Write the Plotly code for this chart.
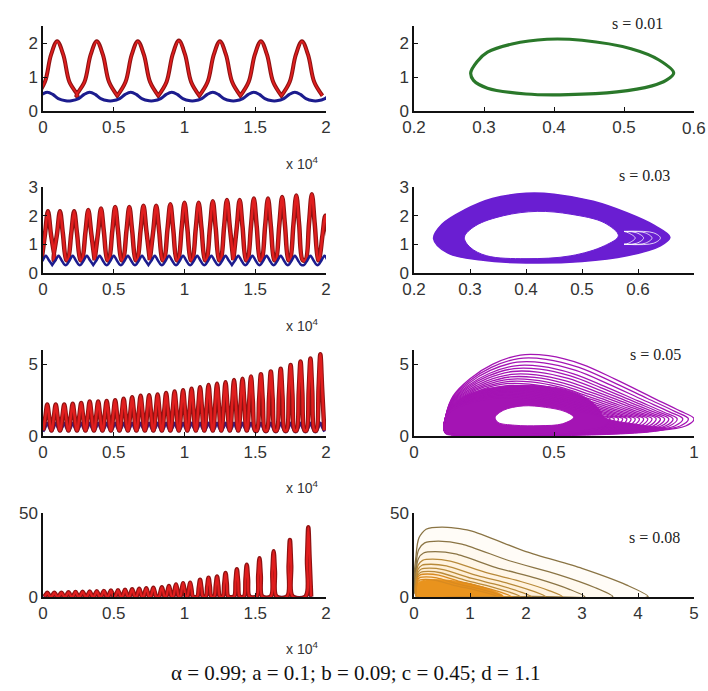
import plotly.graph_objects as go

# ---------------- time series data (t in units of 10^4) ----------------
# s = 0.01
ts1_red_t = [0.10, 0.38, 0.67, 0.96, 1.25, 1.54, 1.83]
ts1_red_h = [2.05, 2.05, 2.05, 2.07, 2.05, 2.05, 2.05]
ts1_red_base = 0.45
ts1_blue_t = [0.03, 0.33, 0.62, 0.91, 1.20, 1.49, 1.78, 2.07]
ts1_blue_h = [0.55, 0.55, 0.55, 0.55, 0.55, 0.55, 0.55, 0.55]
ts1_blue_base = 0.30

# s = 0.03
ts2_red_t = [0.035, 0.12, 0.22, 0.32, 0.41, 0.51, 0.61, 0.71, 0.80, 0.90, 1.00,
             1.10, 1.20, 1.30, 1.39, 1.49, 1.59, 1.69, 1.79, 1.90, 1.995]
ts2_red_h = [2.15, 2.15, 2.15, 2.2, 2.25, 2.3, 2.3, 2.35, 2.35, 2.4, 2.45,
             2.45, 2.5, 2.55, 2.55, 2.6, 2.6, 2.65, 2.7, 2.75, 2.0]
ts2_red_base = 0.45
ts2_blue_t = [0.02, 0.11, 0.21, 0.31, 0.40, 0.50, 0.60, 0.70, 0.79, 0.89, 0.99,
              1.09, 1.19, 1.29, 1.38, 1.48, 1.58, 1.68, 1.78, 1.89, 1.99]
ts2_blue_h = [0.6] * 21
ts2_blue_base = 0.28

# s = 0.05
ts3_red_t = [0.03, 0.09, 0.15, 0.21, 0.27, 0.33, 0.39, 0.45, 0.51, 0.57, 0.63,
             0.69, 0.75, 0.81, 0.87, 0.93, 0.99, 1.05, 1.11, 1.17, 1.23, 1.29,
             1.35, 1.41, 1.47, 1.54, 1.61, 1.68, 1.75, 1.82, 1.89, 1.96]
ts3_red_h = [2.2, 2.2, 2.2, 2.25, 2.3, 2.4, 2.4, 2.45, 2.5, 2.6, 2.7,
             2.8, 2.85, 2.9, 3.0, 3.1, 3.2, 3.3, 3.4, 3.55, 3.65, 3.75,
             3.9, 4.0, 4.15, 4.3, 4.5, 4.7, 4.95, 5.2, 5.4, 5.7]
ts3_red_base = 0.4
ts3_blue_h = [0.9] * 32
ts3_blue_base = 0.3

# s = 0.08
ts4_red_t = [0.03, 0.08, 0.13, 0.18, 0.23, 0.28, 0.33, 0.38, 0.43, 0.48, 0.53,
             0.58, 0.63, 0.68, 0.73, 0.78, 0.84, 0.89, 0.94, 0.99, 1.04, 1.11,
             1.17, 1.23, 1.29, 1.37, 1.44, 1.53, 1.63, 1.745, 1.875]
ts4_red_h = [2.5, 2.5, 2.6, 2.8, 3.0, 3.1, 3.2, 3.4, 3.6, 3.8, 4.0,
             4.3, 4.6, 4.9, 5.2, 5.5, 5.8, 6.5, 7.5, 8.2, 8.5, 10.2,
             11.5, 12.2, 14.3, 16.5, 19.2, 23.0, 27.2, 34.0, 41.5]
ts4_red_base = 0.3
ts4_blue_h = [1.8] * 31
ts4_blue_base = 0.1

# ---------------- phase portraits ----------------
pp1_x = [0.281, 0.29, 0.305, 0.34, 0.39, 0.44, 0.51, 0.55, 0.571, 0.56, 0.54, 0.49, 0.42, 0.36, 0.305, 0.285, 0.281]
pp1_y = [1.12, 1.45, 1.73, 1.97, 2.11, 2.08, 1.83, 1.5, 1.12, 0.9, 0.74, 0.56, 0.48, 0.5, 0.67, 0.9, 1.12]

pp2_out_x = [0.235, 0.25, 0.29, 0.34, 0.40, 0.45, 0.52, 0.58, 0.63, 0.657, 0.64, 0.58, 0.50, 0.40, 0.32, 0.26, 0.235]
pp2_out_y = [1.2, 1.7, 2.2, 2.6, 2.78, 2.75, 2.5, 2.1, 1.65, 1.25, 0.95, 0.6, 0.4, 0.35, 0.45, 0.7, 1.2]
pp2_in_x = [0.29, 0.31, 0.36, 0.42, 0.48, 0.54, 0.565, 0.54, 0.48, 0.40, 0.33, 0.30, 0.29]
pp2_in_y = [1.25, 1.65, 2.0, 2.15, 2.05, 1.75, 1.3, 0.95, 0.6, 0.5, 0.6, 0.9, 1.25]
pp2_gap_r = [0.595, 0.61, 0.625, 0.64]

pp3_out_x = [0.11, 0.115, 0.14, 0.2, 0.28, 0.38, 0.48, 0.6, 0.72, 0.85, 0.95, 1.0, 0.97, 0.85, 0.6, 0.3, 0.15, 0.11]
pp3_out_y = [0.3, 1.5, 2.8, 4.0, 5.0, 5.65, 5.6, 5.0, 3.95, 2.7, 1.75, 1.2, 0.7, 0.35, 0.12, 0.05, 0.1, 0.3]
pp3_ring_r = [1.0, 0.98, 0.96, 0.94, 0.925, 0.91, 0.895, 0.88, 0.865, 0.85,
              0.835, 0.82, 0.805, 0.79, 0.775, 0.76, 0.745, 0.73, 0.715, 0.70]
pp3_ring_top = [5.65, 5.4, 5.15, 4.9, 4.7, 4.5, 4.3, 4.12, 3.95, 3.8,
                3.65, 3.5, 3.38, 3.26, 3.15, 3.05, 2.95, 2.85, 2.75, 2.65]
pp3_core_x = [0.11, 0.12, 0.16, 0.24, 0.35, 0.45, 0.55, 0.62, 0.66, 0.68, 0.8, 0.9, 0.85, 0.6, 0.3, 0.15, 0.11]
pp3_core_y = [0.2, 1.5, 2.5, 3.2, 3.5, 3.5, 3.2, 2.6, 1.9, 1.3, 0.8, 0.5, 0.3, 0.05, 0.02, 0.05, 0.2]
pp3_in_x = [0.29, 0.32, 0.39, 0.47, 0.54, 0.57, 0.53, 0.45, 0.36, 0.30, 0.29]
pp3_in_y = [1.3, 1.8, 2.1, 2.0, 1.7, 1.3, 0.85, 0.72, 0.75, 0.95, 1.3]

pp4_ring_top = [41.6, 33.2, 27.0, 22.5, 19.5, 17.2, 15.2, 13.7, 12.0, 10.5]
pp4_ring_r = [4.18, 3.55, 3.05, 2.65, 2.35, 2.1, 1.9, 1.75, 1.6, 1.5]
pp4_core_x = [0.05, 0.05, 0.2, 0.6, 1.0, 1.4, 1.6, 0.05]
pp4_core_y = [0.3, 8.0, 10.0, 10.0, 8.0, 4.0, 0.3, 0.3]

# ---------------- helpers ----------------
PROF_DX = [-1.0, -0.6, -0.3, 0.0, 0.3, 0.6, 1.0]
PROF_F = [0.0, 0.25, 0.75, 1.0, 0.75, 0.25, 0.0]
PROF2_DX = [-1.0, -0.45, 0.0, 0.45, 1.0]
PROF2_F = [0.0, 0.55, 1.0, 0.55, 0.0]

def pulses(pt, ph, base, hw, smooth=False):
    dxs, fs = (PROF_DX, PROF_F) if smooth else (PROF2_DX, PROF2_F)
    xs, ys = [], []
    for t, h in zip(pt, ph):
        for d, f in zip(dxs, fs):
            xs.append(t + d * hw)
            ys.append(base + (h - base) * f)
    return xs, ys

fig = go.Figure()

def ax(k):
    return ('x' if k == 1 else f'x{k}'), ('y' if k == 1 else f'y{k}')

def line(k, x, y, color, width, shape='spline', fill=None, fillcolor=None, smoothing=1.0):
    xa, ya = ax(k)
    fig.add_trace(go.Scatter(x=x, y=y, mode='lines', xaxis=xa, yaxis=ya,
                             line=dict(color=color, width=width, shape=shape, smoothing=smoothing),
                             fill=fill, fillcolor=fillcolor, hoverinfo='skip', showlegend=False))

RED_D = '#8e1212'
RED = '#e01e1e'
BLUE = '#1c1c8e'

# panel 1
bx, by = pulses(ts1_blue_t, ts1_blue_h, ts1_blue_base, 0.13, smooth=True)
rx, ry = pulses(ts1_red_t, ts1_red_h, ts1_red_base, 0.145, smooth=True)
line(1, rx, ry, RED_D, 4)
line(1, rx, ry, RED, 1.8)
line(1, bx, by, BLUE, 3)

# panel 3 (s=0.03 time series)
rx, ry = pulses(ts2_red_t, ts2_red_h, ts2_red_base, 0.045)
bx, by = pulses(ts2_blue_t, ts2_blue_h, ts2_blue_base, 0.045)
line(3, rx, ry, RED_D, 4.5)
line(3, rx, ry, RED, 2.5)
line(3, bx, by, BLUE, 2.5)

# panel 5 (s=0.05 time series)
bx, by = pulses(ts3_red_t, ts3_blue_h, ts3_blue_base, 0.03)
rx, ry = pulses(ts3_red_t, ts3_red_h, ts3_red_base, 0.028)
line(5, bx, by, '#3a1a80', 3)
line(5, rx, ry, RED_D, 4.5)
line(5, rx, ry, RED, 2.5)

# panel 7 (s=0.08 time series)
bx, by = pulses(ts4_red_t, ts4_blue_h, ts4_blue_base, 0.025)
rx, ry = pulses(ts4_red_t, ts4_red_h, ts4_red_base, 0.02)
line(7, bx, by, '#4a1a70', 3)
line(7, rx, ry, RED_D, 4.5)
line(7, rx, ry, RED, 2.2)

# panel 2 (s=0.01 phase)
line(2, pp1_x, pp1_y, '#2a782a', 3.2)

# panel 4 (s=0.03 phase)
PURPLE = '#6a1ed2'
line(4, pp2_out_x, pp2_out_y, PURPLE, 1.5, fill='toself', fillcolor=PURPLE)
line(4, pp2_in_x, pp2_in_y, PURPLE, 1.0, fill='toself', fillcolor='white')
for r in pp2_gap_r:
    line(4, [0.575, r - 0.012, r, r - 0.012, 0.575],
         [1.45, 1.4, 1.22, 1.04, 1.0], 'rgba(255,255,255,0.8)', 1.0)

# panel 6 (s=0.05 phase)
MAG = '#a414b4'
line(6, pp3_core_x, pp3_core_y, MAG, 1.0, fill='toself', fillcolor=MAG)
L, YC, T0 = 0.11, 1.2, 5.65
for R, T in zip(pp3_ring_r, pp3_ring_top):
    xs = [L + (x - L) * (R - L) / (1.0 - L) for x in pp3_out_x]
    ys = [y if y <= YC else YC + (y - YC) * (T - YC) / (T0 - YC) for y in pp3_out_y]
    line(6, xs, ys, MAG, 1.3)
line(6, pp3_in_x, pp3_in_y, MAG, 1.0, fill='toself', fillcolor='white')

# panel 8 (s=0.08 phase)
TPL_U = [1.0, 0.5, 0.0, -0.003, 0.01, 0.04, 0.109, 0.23, 0.472, 0.714, 0.908, 1.0]
TPL_V = [0.007, 0.007, 0.007, 0.6, 0.85, 0.97, 1.0, 0.95, 0.65, 0.41, 0.17, 0.007]
line(8, pp4_core_x, pp4_core_y, '#e8860e', 1.0, fill='toself', fillcolor='#e8860e', smoothing=0.8)
for i, (R, T) in enumerate(zip(pp4_ring_r, pp4_ring_top)):
    xs = [0.05 + u * (R - 0.05) for u in TPL_U]
    ys = [v * T for v in TPL_V]
    col = '#8a7444' if i < 3 else ('#b88a3a' if i < 7 else '#d88a20')
    line(8, xs, ys, col, 1.3, fill='toself', fillcolor='rgba(245,175,70,0.045)', smoothing=0.7)

# ---------------- layout ----------------
W, H = 708, 691
MR = 14                      # right margin
PW = W - MR                  # plot-area width in px
def px_x(a, b):
    return [a / PW, b / PW]
def px_y(bottom, top):
    return [1 - bottom / H, 1 - top / H]

cols = [px_x(43, 326), px_x(414, 694)]
rows = [px_y(111, 26), px_y(273, 187), px_y(436, 350), px_y(597, 513)]

xcfg = [
    dict(range=[0, 2], tickvals=[0, 0.5, 1, 1.5, 2], ticktext=['0', '0.5', '1', '1.5', '2']),
    dict(range=[0.2, 0.6], tickvals=[0.2, 0.3, 0.4, 0.5, 0.6], ticktext=['0.2', '0.3', '0.4', '0.5', '']),
    dict(range=[0, 2], tickvals=[0, 0.5, 1, 1.5, 2], ticktext=['0', '0.5', '1', '1.5', '2']),
    dict(range=[0.2, 0.7], tickvals=[0.2, 0.3, 0.4, 0.5, 0.6], ticktext=['0.2', '0.3', '0.4', '0.5', '0.6']),
    dict(range=[0, 2], tickvals=[0, 0.5, 1, 1.5, 2], ticktext=['0', '0.5', '1', '1.5', '2']),
    dict(range=[0, 1], tickvals=[0, 0.5, 1], ticktext=['0', '0.5', '1']),
    dict(range=[0, 2], tickvals=[0, 0.5, 1, 1.5, 2], ticktext=['0', '0.5', '1', '1.5', '2']),
    dict(range=[0, 5], tickvals=[0, 1, 2, 3, 4, 5], ticktext=['0', '1', '2', '3', '4', '5']),
]
ycfg = [
    dict(range=[0, 2.5], tickvals=[0, 1, 2]),
    dict(range=[0, 2.5], tickvals=[0, 1, 2]),
    dict(range=[0, 3], tickvals=[0, 1, 2, 3]),
    dict(range=[0, 3], tickvals=[0, 1, 2, 3]),
    dict(range=[0, 6], tickvals=[0, 5]),
    dict(range=[0, 6], tickvals=[0, 5]),
    dict(range=[0, 50], tickvals=[0, 50]),
    dict(range=[0, 50], tickvals=[0, 50]),
]

TICKFONT = dict(family='Liberation Sans, Arial', size=17, color='#333')
common = dict(showline=True, linecolor='#111', linewidth=1.5, ticks='inside', ticklen=4,
              tickwidth=1, tickcolor='#111', showgrid=False, zeroline=False, mirror=False,
              automargin=False, fixedrange=True, ticklabeloverflow='allow', tickfont=TICKFONT)

layout = dict(width=W, height=H, margin=dict(l=0, r=MR, t=0, b=0, pad=0, autoexpand=False),
              autosize=False, paper_bgcolor='white', plot_bgcolor='rgba(0,0,0,0)', showlegend=False)
for i in range(8):
    k = i + 1
    r, c = i // 2, i % 2
    xk = 'xaxis' if k == 1 else f'xaxis{k}'
    yk = 'yaxis' if k == 1 else f'yaxis{k}'
    xa, ya = ax(k)
    layout[xk] = dict(domain=cols[c], anchor=ya, **xcfg[i], **common)
    layout[yk] = dict(domain=rows[r], anchor=xa, **ycfg[i], **common)

ann = []
# last tick label of the s = 0.01 phase plot, placed at x = 0.6 on that axis
ann.append(dict(x=0.6, y=0, xref='x2', yref='y2', showarrow=False, xanchor='center', yanchor='top',
                yshift=-6, text='0.6', font=TICKFONT))
for yy in [163, 325, 487, 648]:
    ann.append(dict(x=302 / PW, y=1 - yy / H, xref='paper', yref='paper', showarrow=False,
                    xanchor='center', yanchor='middle',
                    text='x 10<sup>4</sup>', font=dict(family='Liberation Sans, Arial', size=14, color='#333')))
s_labels = ['s = 0.01', 's = 0.03', 's = 0.05', 's = 0.08']
s_pos = [(637, 24), (644, 175), (655, 354), (654, 537)]
for txt, (xx, yy) in zip(s_labels, s_pos):
    ann.append(dict(x=xx / PW, y=1 - yy / H, xref='paper', yref='paper', showarrow=False,
                    xanchor='center', yanchor='middle',
                    text=txt, font=dict(family='Liberation Serif, Times New Roman', size=16, color='#222')))
ann.append(dict(x=355 / PW, y=1 - 673 / H, xref='paper', yref='paper', showarrow=False,
                xanchor='center', yanchor='middle',
                text='α = 0.99; a = 0.1; b = 0.09; c = 0.45; d = 1.1',
                font=dict(family='Liberation Serif, Times New Roman', size=21, color='#111')))
layout['annotations'] = ann

fig.update_layout(**layout)
fig.write_html('out.html', config={'displayModeBar': False},
               post_script="document.body.style.margin='0';document.body.style.overflow='hidden';")
